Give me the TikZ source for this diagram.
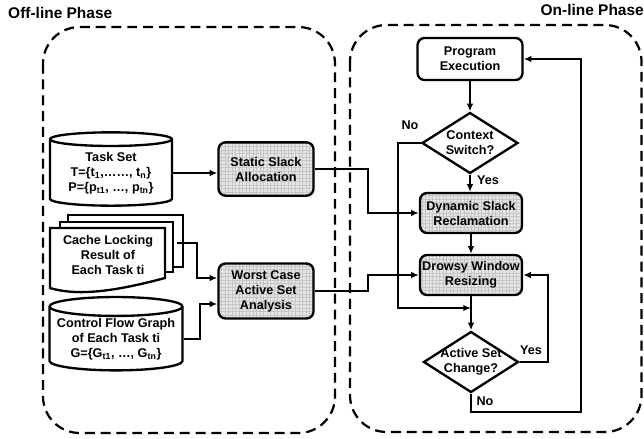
\documentclass[tikz,border=0pt]{standalone}
\usepackage{fontspec}
\setmainfont{Liberation Sans}
\usetikzlibrary{calc,shapes.geometric,arrows.meta,patterns}

\tikzset{
  txt/.style={font=\fontsize{10.8}{12.8}\selectfont\bfseries, align=center},
  phase/.style={font=\fontsize{13.2}{15}\selectfont\bfseries, inner sep=0pt},
  frame/.style={line width=1.9pt, dash pattern=on 8.5pt off 5pt, rounded corners=1.1cm},
  process/.style={txt, draw, line width=2pt, rounded corners=6pt, inner sep=1pt,
    minimum width=3.06cm, minimum height=1.2cm},
  shaded/.style={process, preaction={fill=gray!20}, pattern=grid, pattern color=gray!45},
  store/.style={txt, draw, line width=2pt, shape=cylinder, shape border rotate=90,
    aspect=0.16, inner sep=0pt, minimum width=3.66cm, minimum height=2.2cm},
  page/.style={draw, line width=2pt, fill=white},
  decision/.style={draw, line width=2pt, shape=diamond, inner sep=0pt,
    minimum width=2.88cm, minimum height=1.83cm},
  arrow/.style={line width=2pt, -{Latex[length=6.5pt,width=5.5pt]}}
}

\begin{document}
\begin{tikzpicture}[x=0.03cm, y=-0.03cm]
\useasboundingbox (0,0) rectangle (644,438);

% Phase frames
\draw[frame] (43,27) rectangle (335,433);
\draw[frame] (350,25) rectangle (641.5,432);
\node[phase, anchor=west] (offline) at (8,13) {Off-line Phase};
\node[phase, anchor=east] (online) at (644,10) {On-line Phase};

% Off-line inputs
\node[store] (taskset) at (111,173) {Task Set\\T=\{t\textsubscript{1},……, t\textsubscript{n}\}\\P=\{p\textsubscript{t1}, …, p\textsubscript{tn}\}};

% Stack of documents
\draw[page] (68,215) rectangle (183,267);
\draw[page] (60,222) rectangle (173,272);
\draw[page] (50,228) -- (165,228) -- (165,278) .. controls (120,290) and (80,297) .. (50,288) -- cycle;
\node[txt] (cache) at (108,255) {Cache Locking\\Result of\\Each Task ti};

\node[store, minimum width=3.99cm] (cfg) at (116,339) {Control Flow Graph\\of Each Task ti\\G=\{G\textsubscript{t1}, …, G\textsubscript{tn}\}};

% Off-line analysis
\node[shaded, minimum width=2.85cm, minimum height=1.6cm] (static) at (266,169) {Static Slack\\Allocation};
\node[shaded, minimum width=2.85cm, minimum height=1.65cm] (worst) at (266,291) {Worst Case\\Active Set\\Analysis};

% On-line flow
\node[process, minimum width=3.15cm, minimum height=1.26cm] (prog) at (470,59) {Program\\Execution};
\node[decision] (ctx) at (470,143) {};
\node[txt] (ctxtext) at (ctx) {Context\\Switch?};
\node[shaded] (dynamic) at (471,213) {Dynamic Slack\\Reclamation};
\node[shaded] (drowsy) at (471,275) {Drowsy Window\\Resizing};
\node[decision, minimum width=2.85cm] (active) at (471,362) {};
\node[txt] (activetext) at (active) {Active Set\\Change?};

% Branch labels
\node[txt] (noctx) at (410,125) {No};
\node[txt] (yesctx) at (488,180) {Yes};
\node[txt] (yesact) at (531,350) {Yes};
\node[txt] (noact) at (485,401) {No};

% Bend points
\coordinate (cacheout) at (177,243);
\coordinate (cachein) at (197,278);
\coordinate (cfgin) at (200,304);
\coordinate (bus) at (368,0);
\coordinate (noturn) at (398,308);
\coordinate (yesturn) at (548,0);
\coordinate (loopturn) at (581,412);

% Connectors
\draw[arrow] (taskset.east) -- (static.west |- taskset.east);
\draw[arrow] (cacheout) -| (cachein) -- (worst.west |- cachein);
\draw[arrow] (cfg.east) -| (cfgin) -- (worst.west |- cfgin);
\draw[arrow] (static.east) -| (bus |- dynamic.west) -- (dynamic.west);
\draw[arrow] (worst.east) -| (bus |- drowsy.west) -- (drowsy.west);
\draw[arrow] (prog.south) -- (prog.south |- ctx.north);
\draw[arrow] (ctx.south) -- (ctx.south |- dynamic.north);
\draw[arrow] (dynamic) -- (drowsy);
\draw[arrow] (drowsy) -- (active);
\draw[arrow] (ctx.west) -| (noturn) -- (drowsy.south |- noturn);
\draw[arrow] (active.east) -| (yesturn |- drowsy.east) -- (drowsy.east);
\draw[arrow] (active.south) |- (loopturn) |- (prog.east);

\end{tikzpicture}
\end{document}
